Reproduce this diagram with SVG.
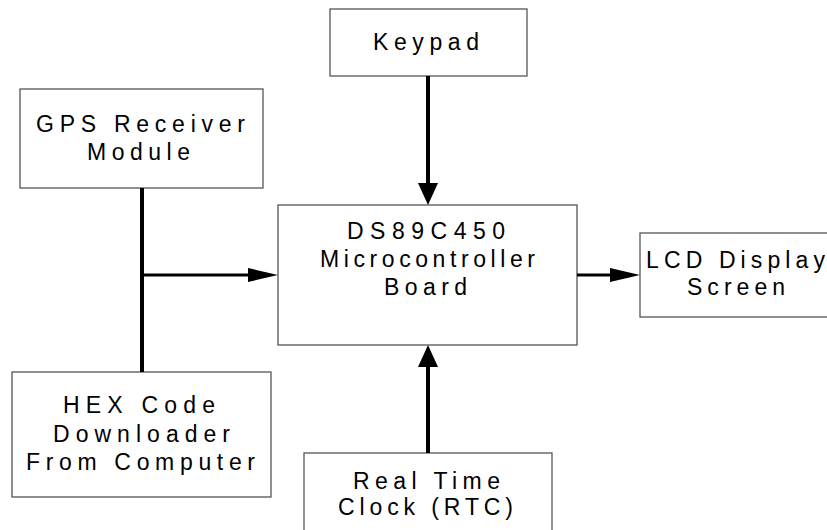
<svg xmlns="http://www.w3.org/2000/svg" width="827" height="530" viewBox="0 0 827 530">
<style>
.box{fill:#fff;stroke:#555;stroke-width:1.3}
.t{font-family:"Liberation Sans",Arial,sans-serif;font-size:23px;fill:#000;text-anchor:middle}
.v{stroke:#000;stroke-width:4;fill:none}
.h{stroke:#000;stroke-width:3;fill:none}
.ah{fill:#000}
</style>
<rect width="827" height="530" fill="#fff"/>
<g id="keypad">
<rect class="box" x="330" y="9" width="197" height="67"/>
<text class="t" x="426" y="50" textLength="106" lengthAdjust="spacing">Keypad</text>
</g>
<g id="gps">
<rect class="box" x="20" y="89" width="243" height="99"/>
<text class="t" x="140.5" y="132" textLength="209" lengthAdjust="spacing">GPS Receiver</text>
<text class="t" x="138.5" y="160" textLength="103" lengthAdjust="spacing">Module</text>
</g>
<g id="mcu">
<rect class="box" x="278" y="205" width="299" height="140"/>
<text class="t" x="426" y="239" textLength="158" lengthAdjust="spacing">DS89C450</text>
<text class="t" x="427.5" y="267" textLength="215" lengthAdjust="spacing">Microcontroller</text>
<text class="t" x="425.5" y="295" textLength="83" lengthAdjust="spacing">Board</text>
</g>
<g id="lcd">
<rect class="box" x="640" y="233" width="192" height="84"/>
<text class="t" x="735.5" y="268" textLength="179" lengthAdjust="spacing">LCD Display</text>
<text class="t" x="736" y="295" textLength="98" lengthAdjust="spacing">Screen</text>
</g>
<g id="hex">
<rect class="box" x="12" y="372" width="259" height="125"/>
<text class="t" x="139" y="413" textLength="152" lengthAdjust="spacing">HEX Code</text>
<text class="t" x="141.5" y="442" textLength="177" lengthAdjust="spacing">Downloader</text>
<text class="t" x="140.5" y="470" textLength="229" lengthAdjust="spacing">From Computer</text>
</g>
<g id="rtc">
<rect class="box" x="304" y="453" width="248" height="90"/>
<text class="t" x="426.5" y="489" textLength="147" lengthAdjust="spacing">Real Time</text>
<text class="t" x="425.5" y="515" textLength="175" lengthAdjust="spacing">Clock (RTC)</text>
</g>
<g id="connectors">
<line class="v" x1="428" y1="76" x2="428" y2="185"/>
<polygon class="ah" points="418,183 438,183 428,205"/>
<line class="v" x1="428" y1="453" x2="428" y2="365"/>
<polygon class="ah" points="418,367 438,367 428,345"/>
<line class="v" x1="142" y1="188" x2="142" y2="372"/>
<line class="h" x1="142" y1="275" x2="252" y2="275"/>
<polygon class="ah" points="248,268 248,282 278,275"/>
<line class="h" x1="577" y1="275" x2="614" y2="275"/>
<polygon class="ah" points="610,268 610,282 640,275"/>
</g>
</svg>
